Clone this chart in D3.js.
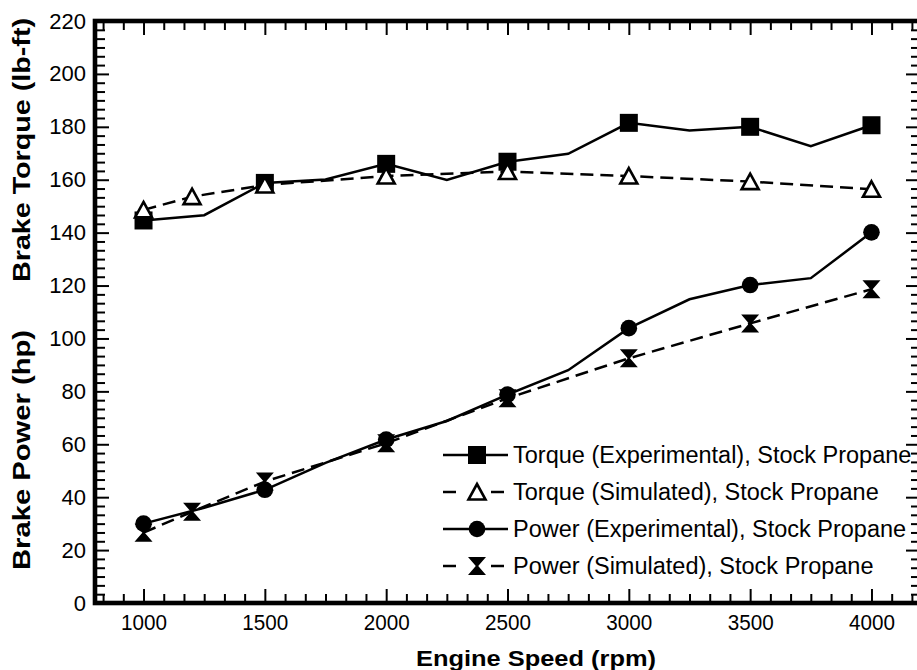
<!DOCTYPE html>
<html><head><meta charset="utf-8">
<script src="https://cdn.jsdelivr.net/npm/d3@7"></script>
<style>
body{margin:0;background:#fff}
svg{display:block}
text{font-family:"Liberation Sans",Arial,Helvetica,sans-serif;fill:#000}
</style>
</head><body>
<svg id="c" width="917" height="670"></svg>
<script>
// ---------- data ----------
const rpmExp = [1000,1250,1500,1750,2000,2250,2500,2750,3000,3250,3500,3750,4000];
const torqueExp = [144.6,146.6,158.8,160.1,166.0,159.9,166.8,169.8,181.5,178.6,180.0,172.7,180.6];
const powerExp  = [30.0,36.0,42.8,53.0,61.8,68.8,78.8,88.0,103.9,114.8,120.2,122.8,140.1];
const rpmSim = [1000,1200,1500,2000,2500,3000,3500,4000];
const torqueSim = [148.6,153.6,158.0,161.4,163.1,161.4,159.3,156.4];
const powerSim  = [26.6,34.5,45.9,60.4,77.4,92.5,105.7,118.6];
const xTickValues = [1000,1500,2000,2500,3000,3500,4000];
const yTickValues = [0,20,40,60,80,100,120,140,160,180,200,220];
const legendLabels = [
  "Torque (Experimental), Stock Propane",
  "Torque (Simulated), Stock Propane",
  "Power (Experimental), Stock Propane",
  "Power (Simulated), Stock Propane"
];
const xTitle = "Engine Speed (rpm)";
const yTitleTop = "Brake Torque (lb-ft)";
const yTitleBottom = "Brake Power (hp)";

// ---------- layout ----------
const L = 95, R = 920, T = 21, B = 603;
const x = d3.scaleLinear().domain([800,4200]).range([L,R]);
const y = d3.scaleLinear().domain([0,220]).range([B,T]);
const svg = d3.select("#c");

// minor tick values (6 per major interval)
const xMinor = d3.range(-2,39).map(i => 1000 + i*500/6).filter(v => Math.abs(((v-1000)/500) - Math.round((v-1000)/500))>1e-6);
const yMinor = d3.range(0,67).map(i => i*20/6).filter(v => Math.abs(v/20 - Math.round(v/20))>1e-6);

function styleAxis(g, w){
  g.select(".domain").remove();
  g.selectAll(".tick line").attr("stroke","#000").attr("stroke-width",w);
}
// bottom
svg.append("g").attr("transform",`translate(0,${B})`)
  .call(d3.axisBottom(x).tickValues(xMinor).tickSize(-9).tickFormat(""))
  .call(g=>styleAxis(g,2));
const gxb = svg.append("g").attr("transform",`translate(0,${B})`)
  .call(d3.axisBottom(x).tickValues(xTickValues).tickSize(-14).tickPadding(11).tickFormat(d3.format("d")))
  .call(g=>styleAxis(g,2));
gxb.selectAll("text").attr("font-size",22).attr("textLength",46).attr("lengthAdjust","spacingAndGlyphs")
  .style("font-family","'Liberation Sans',Arial,sans-serif");
// top
svg.append("g").attr("transform",`translate(0,${T})`)
  .call(d3.axisTop(x).tickValues(xMinor).tickSize(-9).tickFormat("")).call(g=>styleAxis(g,2));
svg.append("g").attr("transform",`translate(0,${T})`)
  .call(d3.axisTop(x).tickValues(xTickValues).tickSize(-14).tickFormat("")).call(g=>styleAxis(g,2));
// left
svg.append("g").attr("transform",`translate(${L},0)`)
  .call(d3.axisLeft(y).tickValues(yMinor).tickSize(-10).tickFormat("")).call(g=>styleAxis(g,2));
const gyl = svg.append("g").attr("transform",`translate(${L},0)`)
  .call(d3.axisLeft(y).tickValues(yTickValues).tickSize(-14).tickPadding(9).tickFormat(d3.format("d")))
  .call(g=>styleAxis(g,2));
gyl.selectAll("text").attr("font-size",22).style("font-family","'Liberation Sans',Arial,sans-serif");
// right
svg.append("g").attr("transform",`translate(${R},0)`)
  .call(d3.axisRight(y).tickValues(yMinor).tickSize(-9).tickFormat("")).call(g=>styleAxis(g,2));
svg.append("g").attr("transform",`translate(${R},0)`)
  .call(d3.axisRight(y).tickValues(yTickValues).tickSize(-14).tickFormat("")).call(g=>styleAxis(g,2));

// frame
svg.append("rect").attr("x",L).attr("y",T).attr("width",R-L).attr("height",B-T)
  .attr("fill","none").attr("stroke","#000").attr("stroke-width",4.6);

// ---------- markers ----------
const S = 9;
const markers = {
  square: g => g.append("rect").attr("x",-S).attr("y",-S).attr("width",2*S).attr("height",2*S).attr("fill","#000"),
  triangle: g => g.append("path").attr("d",`M0,${-S+1}L${S-0.5},${S-1.5}L${-S+0.5},${S-1.5}Z`)
      .attr("fill","#fff").attr("stroke","#000").attr("stroke-width",2.6).attr("stroke-linejoin","miter"),
  circle: g => g.append("circle").attr("r",8.3).attr("fill","#000"),
  hourglass: g => g.append("path").attr("d",`M${-S},${-S}L${S},${-S}L1.2,0L${S},${S}L${-S},${S}L-1.2,0Z`).attr("fill","#000")
};

const series = [
  {xs: rpmExp, ys: torqueExp, dash: null, marker: "square", showAt: v => v % 500 === 0},
  {xs: rpmSim, ys: torqueSim, dash: "13,7", marker: "triangle", showAt: () => true},
  {xs: rpmExp, ys: powerExp, dash: null, marker: "circle", showAt: v => v % 500 === 0},
  {xs: rpmSim, ys: powerSim, dash: "13,7", marker: "hourglass", showAt: () => true}
];

const line = d3.line().x(d=>x(d[0])).y(d=>y(d[1]));
const drawOrder = [2,3,0,1];
drawOrder.forEach(i=>{
  const s = series[i];
  const pts = s.xs.map((v,j)=>[v,s.ys[j]]);
  svg.append("path").datum(pts).attr("d",line).attr("fill","none").attr("stroke","#000")
    .attr("stroke-width",2.5).attr("stroke-dasharray",s.dash);
});
drawOrder.forEach(i=>{
  const s = series[i];
  const pts = s.xs.map((v,j)=>[v,s.ys[j]]).filter(p=>s.showAt(p[0]));
  pts.forEach(p=>{
    const g = svg.append("g").attr("transform",`translate(${x(p[0])},${y(p[1])})`);
    markers[s.marker](g);
  });
});

// ---------- legend ----------
const legendRowsY = [455,492,529,566];
const lg = svg.append("g");
series.forEach((s,i)=>{
  const yy = legendRowsY[i];
  if(s.dash){
    lg.append("line").attr("x1",443).attr("x2",456).attr("y1",yy).attr("y2",yy).attr("stroke","#000").attr("stroke-width",2.5);
    lg.append("line").attr("x1",491).attr("x2",504).attr("y1",yy).attr("y2",yy).attr("stroke","#000").attr("stroke-width",2.5);
  } else {
    lg.append("line").attr("x1",443).attr("x2",508).attr("y1",yy).attr("y2",yy).attr("stroke","#000").attr("stroke-width",2.5);
  }
  const g = lg.append("g").attr("transform",`translate(477,${yy})`);
  markers[s.marker](g);
  lg.append("text").attr("x",513).attr("y",yy).attr("dy","0.36em").attr("font-size",23.5).text(legendLabels[i]);
});

// ---------- titles ----------
svg.append("text").attr("x",536).attr("y",666).attr("text-anchor","middle")
  .attr("font-size",22).attr("font-weight","bold").attr("textLength",240).attr("lengthAdjust","spacingAndGlyphs").text(xTitle);
svg.append("text").attr("transform","translate(22,150) rotate(-90)").attr("text-anchor","middle").attr("dy","0.36em")
  .attr("font-size",23).attr("font-weight","bold").attr("textLength",264).attr("lengthAdjust","spacingAndGlyphs").text(yTitleTop);
svg.append("text").attr("transform","translate(22,450) rotate(-90)").attr("text-anchor","middle").attr("dy","0.36em")
  .attr("font-size",23).attr("font-weight","bold").attr("textLength",240).attr("lengthAdjust","spacingAndGlyphs").text(yTitleBottom);
</script>
</body></html>
